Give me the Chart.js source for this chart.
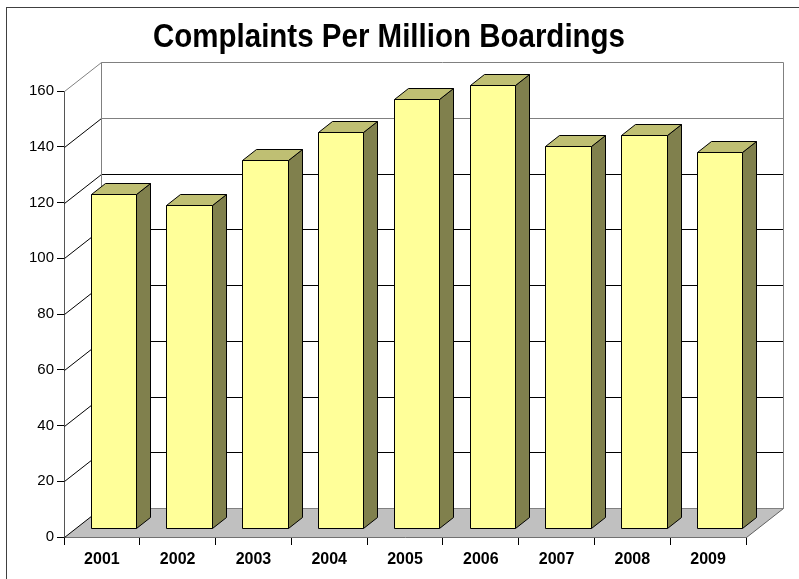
<!DOCTYPE html>
<html>
<head>
<meta charset="utf-8">
<script src="https://cdn.jsdelivr.net/npm/chart.js@4.4.1/dist/chart.umd.min.js"></script>
<style>
  html, body { margin: 0; padding: 0; background: #fff; }
  #wrap { width: 799px; height: 579px; position: relative; }
</style>
</head>
<body>
<div id="wrap"><canvas id="c" width="799" height="579"></canvas></div>
<script>
const chartTitle = 'Complaints Per Million Boardings';
const years = ['2001', '2002', '2003', '2004', '2005', '2006', '2007', '2008', '2009'];
const complaints = [120, 116, 132, 142, 154, 159, 137, 141, 135];
const yTicks = [0, 20, 40, 60, 80, 100, 120, 140, 160];

const FONT = '"Liberation Sans", Arial, sans-serif';

// oblique depth of the plot box (walls and floor)
const DEPTH_X = 37, DEPTH_Y = -29;
// front and back of each column as fractions of the box depth
const COL_FRONT = 0.31, COL_BACK = 0.69;

function line(ctx, pts, color) {
  ctx.beginPath();
  ctx.moveTo(pts[0][0], pts[0][1]);
  for (let i = 1; i < pts.length; i++) ctx.lineTo(pts[i][0], pts[i][1]);
  ctx.strokeStyle = color;
  ctx.lineWidth = 1;
  ctx.stroke();
}

function poly(ctx, pts, fill) {
  ctx.beginPath();
  ctx.moveTo(pts[0][0], pts[0][1]);
  for (let i = 1; i < pts.length; i++) ctx.lineTo(pts[i][0], pts[i][1]);
  ctx.closePath();
  ctx.fillStyle = fill;
  ctx.fill();
  ctx.strokeStyle = '#000';
  ctx.lineWidth = 1;
  ctx.stroke();
}

const boxPlugin = {
  id: 'box3d',
  beforeDatasetsDraw(chart) {
    const ctx = chart.ctx;
    const ys = chart.scales.y;
    const L = Math.round(chart.chartArea.left) + 0.5;
    const R = Math.round(chart.chartArea.right) + 0.5;
    const y0 = Math.round(ys.getPixelForValue(0)) + 0.5;
    const yMax = Math.round(ys.getPixelForValue(yTicks[yTicks.length - 1])) + 0.5;
    ctx.save();
    // floor
    ctx.beginPath();
    ctx.moveTo(L, y0);
    ctx.lineTo(R, y0);
    ctx.lineTo(R + DEPTH_X, y0 + DEPTH_Y);
    ctx.lineTo(L + DEPTH_X, y0 + DEPTH_Y);
    ctx.closePath();
    ctx.fillStyle = '#C0C0C0';
    ctx.fill();
    // back wall gridlines and side wall diagonals
    yTicks.forEach(v => {
      const y = Math.round(ys.getPixelForValue(v)) + 0.5;
      const top = v === yTicks[yTicks.length - 1];
      const horiz = (v >= 140 || v === 0) ? '#808080' : '#000';
      const diag = top ? '#808080' : '#000';
      line(ctx, [[L, y], [L + DEPTH_X, y + DEPTH_Y]], diag);
      line(ctx, [[L + DEPTH_X, y + DEPTH_Y], [R + DEPTH_X, y + DEPTH_Y]], horiz);
    });
    // wall edges
    line(ctx, [[L + DEPTH_X, yMax + DEPTH_Y], [L + DEPTH_X, y0 + DEPTH_Y]], '#808080');
    line(ctx, [[R + DEPTH_X, yMax + DEPTH_Y], [R + DEPTH_X, y0 + DEPTH_Y]], '#808080');
    line(ctx, [[R, y0], [R + DEPTH_X, y0 + DEPTH_Y]], '#606060');
    ctx.restore();
  },
  afterDatasetsDraw(chart) {
    const ctx = chart.ctx;
    const meta = chart.getDatasetMeta(0);
    const ox = COL_FRONT * DEPTH_X, oy = COL_FRONT * DEPTH_Y;
    const dx = (COL_BACK - COL_FRONT) * DEPTH_X, dy = (COL_BACK - COL_FRONT) * DEPTH_Y;
    ctx.save();
    meta.data.forEach(el => {
      const p = el.getProps(['x', 'y', 'base', 'width'], true);
      const l = Math.round(p.x - p.width / 2 + ox) + 0.5;
      const r = Math.round(p.x + p.width / 2 + ox) + 0.5;
      const t = Math.round(p.y + oy) + 0.5;
      const b = Math.round(p.base + oy) + 0.5;
      const ddx = Math.round(dx), ddy = Math.round(dy);
      poly(ctx, [[r, t], [r + ddx, t + ddy], [r + ddx, b + ddy], [r, b]], '#80804D');
      poly(ctx, [[l, t], [r, t], [r + ddx, t + ddy], [l + ddx, t + ddy]], '#BFBF73');
      poly(ctx, [[l, t], [r, t], [r, b], [l, b]], '#FFFF99');
    });
    ctx.restore();
  },
  afterDraw(chart) {
    const ctx = chart.ctx;
    ctx.save();
    // outer frame
    ctx.strokeStyle = '#404040';
    ctx.lineWidth = 1;
    ctx.strokeRect(6.5, 7.5, 820, 620);
    // title
    ctx.fillStyle = '#000';
    ctx.font = 'bold 29.5px ' + FONT;
    ctx.textAlign = 'center';
    ctx.textBaseline = 'alphabetic';
    ctx.translate(389, 47);
    ctx.scale(1, 1.13);
    ctx.fillText(chartTitle, 0, 0);
    ctx.restore();
  }
};

new Chart(document.getElementById('c'), {
  type: 'bar',
  data: {
    labels: years,
    datasets: [{
      label: chartTitle,
      data: complaints,
      backgroundColor: 'rgba(0,0,0,0)',
      borderWidth: 0,
      categoryPercentage: 1,
      barPercentage: 0.6
    }]
  },
  options: {
    responsive: false,
    animation: false,
    devicePixelRatio: 1,
    layout: { padding: { left: 0, top: 91, right: 53, bottom: 0 } },
    plugins: {
      legend: { display: false },
      title: { display: false },
      tooltip: { enabled: false }
    },
    scales: {
      x: {
        offset: true,
        grid: { offset: true, drawOnChartArea: false, drawTicks: true, tickLength: 8, color: '#000' },
        border: { color: '#222' },
        ticks: { color: '#000', padding: 5, maxRotation: 0, font: { family: FONT, size: 16, weight: 'bold' } },
        afterFit(s) { s.height = 42; }
      },
      y: {
        min: yTicks[0],
        max: yTicks[yTicks.length - 1],
        afterBuildTicks(s) { s.ticks = yTicks.map(v => ({ value: v })); },
        grid: { drawOnChartArea: false, drawTicks: true, tickLength: 7, color: '#000' },
        border: { color: '#555' },
        ticks: { color: '#000', padding: 3, font: { family: FONT, size: 15 } },
        afterFit(s) { s.width = 64; }
      }
    }
  },
  plugins: [boxPlugin]
});
</script>
</body>
</html>
